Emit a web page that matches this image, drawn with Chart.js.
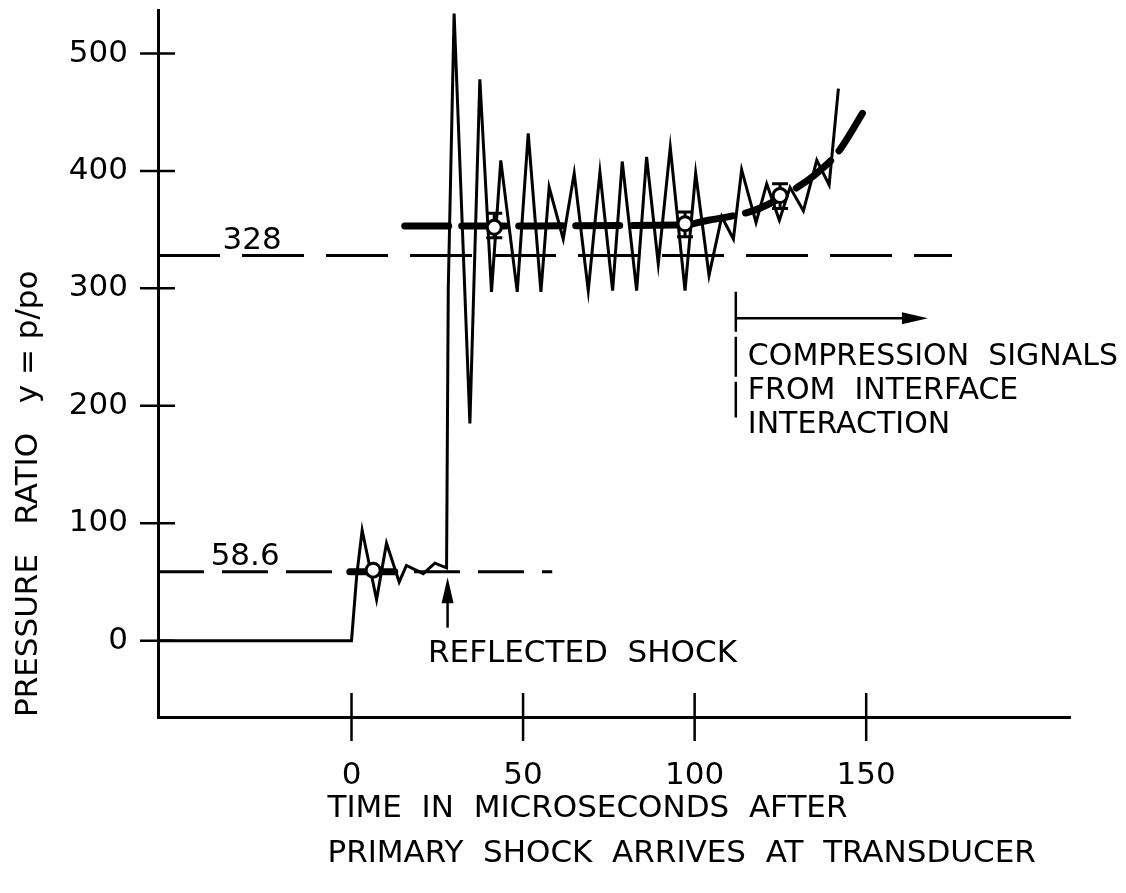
<!DOCTYPE html>
<html>
<head>
<meta charset="utf-8">
<script src="https://cdn.jsdelivr.net/npm/chart.js@4.4.1/dist/chart.umd.min.js"></script>
<style>
  html, body { margin: 0; padding: 0; background: #fff; }
  canvas { display: block; }
</style>
</head>
<body>
<canvas id="pressure-chart" width="1126" height="893"></canvas>
<script>
// transducer trace: time in microseconds, pressure ratio p/po
const traceTime = [-56.4, 0, 1.5, 3.1, 7.3, 10.2, 13.9, 16.0, 20.9, 24.3, 27.7, 28.2, 29.9,
    34.5, 37.4, 40.8, 43.5, 48.3, 51.5, 55.2, 57.6, 61.7, 64.9, 69.0, 72.4, 76.1, 78.9,
    83.1, 86.0, 89.4, 92.9, 97.2, 100.3, 104.2, 107.9, 111.3, 113.7, 117.9, 121.0, 124.7,
    127.8, 131.7, 135.6, 139.2, 141.9];
const traceRatio = [0, 0, 55, 94, 35, 83, 50, 64, 57, 66, 62, 300, 534,
    185, 478, 297, 409, 297, 432, 297, 386, 342, 398, 298, 399, 298, 408,
    298, 412, 321, 420, 298, 398, 311, 361, 342, 401, 356, 389, 358,
    386, 366, 409, 388, 470];

// faired mean levels (heavy dashed)
const lowMeanTime = [-0.5, 12.6];
const lowMeanRatio = [58.6, 58.6];
const highMeanTime = [15.5, 97, 104, 110, 118, 125, 131, 136, 141, 145, 149.3];
const highMeanRatio = [353, 354, 358, 361, 367, 377, 388, 399, 413, 430, 451];

// averaged points with their spread
const avgTime = [6.3, 41.6, 97.2, 124.9];
const avgRatio = [60, 352, 355, 379];
const avgHigh = [null, 364, 365, 389];
const avgLow = [null, 343, 344, 368];

// theoretical levels
const refLow = 58.6;
const refLowEnd = 58.5;
const refHigh = 328;
const refHighEnd = 175;

const xTicks = [0, 50, 100, 150];
const yTicks = [0, 100, 200, 300, 400, 500];

const xMin = -56.4, xMax = 209.4;
const yMin = -65, yMax = 537;

const FONT = '"DejaVu Sans", sans-serif';

function pts(xs, ys) {
    return xs.map((x, i) => ({ x: x, y: ys[i] }));
}

// tick marks that cross both axes
const crossTicks = {
    id: 'crossTicks',
    afterDraw(chart) {
        const { ctx, chartArea, scales: { x, y } } = chart;
        ctx.save();
        ctx.strokeStyle = '#000';
        ctx.lineWidth = 2.5;
        xTicks.forEach(v => {
            const px = x.getPixelForValue(v);
            ctx.beginPath();
            ctx.moveTo(px, chartArea.bottom - 24);
            ctx.lineTo(px, chartArea.bottom + 24);
            ctx.stroke();
        });
        yTicks.forEach(v => {
            const py = y.getPixelForValue(v);
            ctx.beginPath();
            ctx.moveTo(chartArea.left - 18, py);
            ctx.lineTo(chartArea.left + 17, py);
            ctx.stroke();
        });
        ctx.restore();
    }
};

// I-shaped spread bars behind the open circles
const spreadBars = {
    id: 'spreadBars',
    beforeDatasetsDraw(chart) {
        const { ctx, scales: { x, y } } = chart;
        ctx.save();
        ctx.strokeStyle = '#000';
        ctx.lineWidth = 3;
        avgTime.forEach((t, i) => {
            if (avgHigh[i] == null) return;
            const px = x.getPixelForValue(t);
            const top = y.getPixelForValue(avgHigh[i]);
            const bot = y.getPixelForValue(avgLow[i]);
            ctx.beginPath();
            ctx.moveTo(px, top); ctx.lineTo(px, bot);
            ctx.moveTo(px - 8, top); ctx.lineTo(px + 8, top);
            ctx.moveTo(px - 8, bot); ctx.lineTo(px + 8, bot);
            ctx.stroke();
        });
        ctx.restore();
    }
};

function arrowHead(ctx, x, y, dx, dy, len, half) {
    // triangle pointing along (dx, dy) with its tip at (x, y)
    const nx = -dy, ny = dx;
    ctx.beginPath();
    ctx.moveTo(x, y);
    ctx.lineTo(x - dx * len + nx * half, y - dy * len + ny * half);
    ctx.lineTo(x - dx * len - nx * half, y - dy * len - ny * half);
    ctx.closePath();
    ctx.fill();
}

// level values, notes and the two-line time caption
const notes = {
    id: 'notes',
    afterDraw(chart) {
        const { ctx, scales: { x, y } } = chart;
        ctx.save();
        ctx.fillStyle = '#000';
        ctx.strokeStyle = '#000';
        ctx.font = '31px ' + FONT;
        ctx.textBaseline = 'alphabetic';

        ctx.textAlign = 'center';
        ctx.fillText(String(refHigh), x.getPixelForValue(-29), y.getPixelForValue(refHigh) - 6);
        ctx.fillText(String(refLow), x.getPixelForValue(-31), y.getPixelForValue(refLow) - 7);

        ctx.textAlign = 'left';
        const y0 = y.getPixelForValue(0);
        ctx.fillText('REFLECTED  SHOCK', x.getPixelForValue(22.3), y0 + 21);

        // reflected shock arrow
        const ax = x.getPixelForValue(28);
        ctx.lineWidth = 2.5;
        ctx.beginPath();
        ctx.moveTo(ax, y0 - 13);
        ctx.lineTo(ax, y0 - 50);
        ctx.stroke();
        arrowHead(ctx, ax, y.getPixelForValue(54), 0, -1, 26, 6);

        // interaction marker and arrow
        const bx = x.getPixelForValue(112);
        ctx.setLineDash([40, 5]);
        ctx.beginPath();
        ctx.moveTo(bx, y.getPixelForValue(297));
        ctx.lineTo(bx, y.getPixelForValue(190));
        ctx.stroke();
        ctx.setLineDash([]);
        const ay = y.getPixelForValue(274.6);
        const tipX = x.getPixelForValue(168);
        ctx.beginPath();
        ctx.moveTo(bx, ay);
        ctx.lineTo(tipX - 20, ay);
        ctx.stroke();
        arrowHead(ctx, tipX, ay, 1, 0, 26, 6);

        ctx.font = '30px ' + FONT;
        const tx = x.getPixelForValue(115.5);
        ctx.fillText('COMPRESSION  SIGNALS', tx, 365);
        ctx.fillText('FROM  INTERFACE', tx, 399);
        ctx.fillText('INTERACTION', tx, 433);

        // time caption under the axis
        ctx.font = '31px ' + FONT;
        const cx = x.getPixelForValue(-7);
        ctx.fillText('TIME  IN  MICROSECONDS  AFTER', cx, 817);
        ctx.fillText('PRIMARY  SHOCK  ARRIVES  AT  TRANSDUCER', cx, 862);
        ctx.restore();
    }
};

new Chart(document.querySelector('#pressure-chart').getContext('2d'), {
    type: 'scatter',
    data: {
        datasets: [
            {
                label: 'averaged',
                data: pts(avgTime, avgRatio),
                showLine: false,
                pointRadius: 7,
                pointBackgroundColor: '#fff',
                pointBorderColor: '#000',
                pointBorderWidth: 3,
                order: 0
            },
            {
                label: 'low mean',
                data: pts(lowMeanTime, lowMeanRatio),
                showLine: true,
                borderColor: '#000',
                borderWidth: 7,
                borderCapStyle: 'round',
                pointRadius: 0,
                order: 1
            },
            {
                label: 'high mean',
                data: pts(highMeanTime, highMeanRatio),
                showLine: true,
                borderColor: '#000',
                borderWidth: 7,
                borderDash: [44, 13],
                borderCapStyle: 'round',
                cubicInterpolationMode: 'monotone',
                pointRadius: 0,
                order: 1
            },
            {
                label: 'trace',
                data: pts(traceTime, traceRatio),
                showLine: true,
                borderColor: '#000',
                borderWidth: 3,
                borderJoinStyle: 'miter',
                pointRadius: 0,
                order: 2
            },
            {
                label: 'reflected level',
                data: pts([xMin, refHighEnd], [refHigh, refHigh]),
                showLine: true,
                borderColor: '#000',
                borderWidth: 3,
                borderDash: [62, 22],
                pointRadius: 0,
                order: 3
            },
            {
                label: 'incident level',
                data: pts([xMin, refLowEnd], [refLow, refLow]),
                showLine: true,
                borderColor: '#000',
                borderWidth: 3,
                borderDash: [46, 18],
                pointRadius: 0,
                order: 3
            }
        ]
    },
    options: {
        responsive: false,
        animation: false,
        devicePixelRatio: 1,
        layout: { padding: { top: 10, right: 56, left: 0, bottom: 0 } },
        plugins: {
            legend: { display: false },
            tooltip: { enabled: false }
        },
        scales: {
            x: {
                type: 'linear',
                min: xMin,
                max: xMax,
                afterBuildTicks: scale => { scale.ticks = xTicks.map(v => ({ value: v })); },
                afterFit: scale => {
                    scale.height = 176;
                    scale.paddingLeft = 0;
                    scale.paddingRight = 0;
                },
                grid: { display: false, drawTicks: false },
                border: { display: true, color: '#000', width: 3 },
                ticks: {
                    color: '#000',
                    padding: 40,
                    maxRotation: 0,
                    font: { family: FONT, size: 31 }
                }
            },
            y: {
                type: 'linear',
                min: yMin,
                max: yMax,
                afterBuildTicks: scale => { scale.ticks = yTicks.map(v => ({ value: v })); },
                afterFit: scale => {
                    scale.width = 158;
                    scale.paddingTop = 0;
                    scale.paddingBottom = 0;
                },
                grid: { display: false, drawTicks: false },
                border: { display: true, color: '#000', width: 3 },
                ticks: {
                    color: '#000',
                    padding: 30,
                    font: { family: FONT, size: 31 }
                },
                title: {
                    display: true,
                    text: 'PRESSURE   RATIO   y = p/po',
                    align: 'start',
                    color: '#000',
                    padding: { top: 10, bottom: 0 },
                    font: { family: FONT, size: 31, lineHeight: 1.2 }
                }
            }
        }
    },
    plugins: [crossTicks, spreadBars, notes]
});
</script>
</body>
</html>
